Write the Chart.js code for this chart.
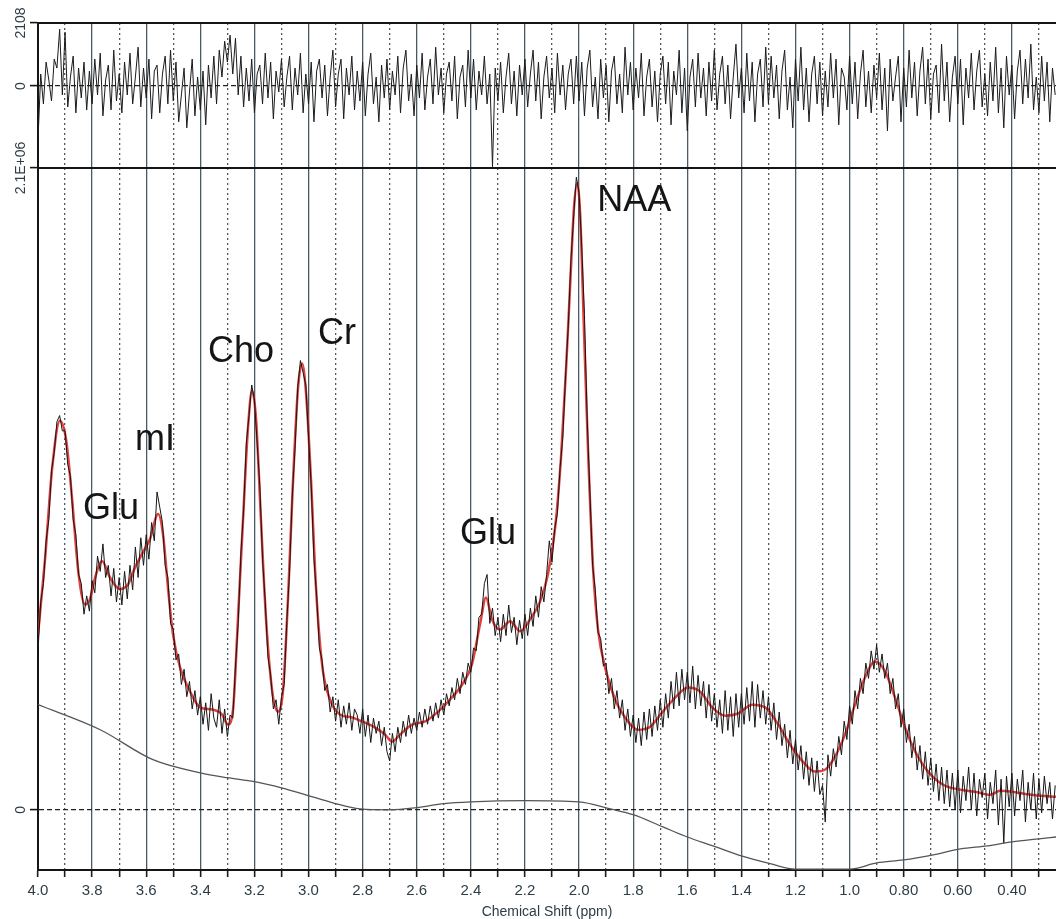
<!DOCTYPE html>
<html>
<head>
<meta charset="utf-8">
<script src="https://cdn.jsdelivr.net/npm/chart.js@4.4.1/dist/chart.umd.min.js"></script>
<style>
  html, body { margin: 0; padding: 0; background: #fff; }
  canvas { display: block; }
</style>
</head>
<body>
<canvas id="spectrum" width="1056" height="919"></canvas>
<script>
// x axis: chemical shift (ppm), drawn reversed
const ppmMax = 4.0;
const ppmMin = 0.237;
const tickPpm = [4.0, 3.9, 3.8, 3.7, 3.6, 3.5, 3.4, 3.3, 3.2, 3.1, 3.0, 2.9, 2.8, 2.7, 2.6, 2.5, 2.4, 2.3, 2.2, 2.1,
  2.0, 1.9, 1.8, 1.7, 1.6, 1.5, 1.4, 1.3, 1.2, 1.1, 1.0, 0.9, 0.8, 0.7, 0.6, 0.5, 0.4, 0.3];
const tickLabels = ['4.0', '', '3.8', '', '3.6', '', '3.4', '', '3.2', '', '3.0', '', '2.8', '', '2.6', '', '2.4', '', '2.2', '',
  '2.0', '', '1.8', '', '1.6', '', '1.4', '', '1.2', '', '1.0', '', '0.80', '', '0.60', '', '0.40', ''];

// spectrum panel, values in units of 1e4
const yTickValues = [0, 210];
const yTickLabels = ['0', '2.1E+06'];
// residual panel, raw units
const resTickValues = [0, 2108];
const resTickLabels = ['0', '2108'];

// measured spectrum, sampled every 0.01 ppm from 4.00 down to 0.24 (units 1e4)
const dataStart = 4.0;
const dataStep = 0.01;
const measured = [
  52, 68, 74, 88, 95, 111, 117, 127, 129, 124,
  124, 113, 109, 95, 90, 77, 74, 64, 70, 65,
  75, 71, 83, 78, 87, 76, 80, 70, 79, 68,
  76, 67, 78, 69, 80, 72, 86, 76, 89, 80,
  90, 82, 94, 88, 104, 99, 94, 80, 76, 61,
  59, 49, 51, 41, 46, 37, 42, 33, 39, 31,
  37, 28, 35, 26, 38, 30, 27, 36, 25, 33,
  24, 31, 30, 47, 61, 84, 98, 120, 129, 139,
  134, 120, 106, 82, 68, 50, 44, 33, 36, 28,
  37, 41, 62, 78, 103, 118, 138, 147, 143, 139,
  122, 106, 82, 70, 53, 49, 39, 41, 32, 37,
  29, 36, 27, 34, 28, 35, 26, 33, 31, 25,
  33, 24, 31, 22, 30, 25, 29, 21, 27, 19,
  16, 25, 19, 27, 22, 29, 24, 31, 25, 30,
  26, 32, 27, 33, 28, 34, 29, 35, 30, 36,
  31, 38, 34, 40, 36, 43, 38, 45, 41, 48,
  45, 53, 52, 63, 64, 74, 77, 61, 66, 57,
  63, 55, 64, 57, 67, 58, 63, 54, 62, 56,
  64, 57, 66, 60, 70, 63, 73, 68, 77, 88,
  81, 92, 97, 112, 122, 142, 158, 180, 194, 207,
  202, 184, 162, 128, 104, 80, 72, 58, 56, 47,
  48, 38, 43, 33, 39, 30, 36, 26, 33, 24,
  31, 22, 30, 21, 32, 23, 33, 24, 34, 26,
  36, 27, 38, 30, 42, 33, 45, 34, 46, 36,
  45, 35, 47, 33, 44, 34, 42, 30, 41, 29,
  38, 27, 36, 25, 39, 26, 37, 24, 38, 27,
  38, 28, 40, 29, 42, 27, 41, 30, 39, 28,
  37, 26, 35, 23, 32, 21, 28, 17, 26, 15,
  23, 13, 21, 10, 19, 8, 17, 6, 16, 5,
  8, -4, 18, 11, 20, 14, 24, 18, 29, 23,
  34, 28, 39, 33, 43, 38, 48, 43, 52, 46,
  54, 45, 51, 43, 48, 38, 43, 33, 38, 27,
  33, 22, 28, 17, 24, 13, 21, 10, 19, 8,
  17, 6, 15, 3, 14, 2, 13, 1, 12, 0,
  13, -1, 11, 3, 14, 0, 12, -2, 10, 4,
  12, -3, 9, 2, 13, -5, 10, -11, 11, 1,
  12, -2, 10, 3, 13, -4, 9, 0, 12, -3,
  10, -1, 11, 2, 9, -3, 8
];

// residual (x100), same sampling as measured
const residual = [
  -18, 4, -6, 8, 2, -5, 9, 6, 19, -3,
  18, -7, 3, 10, -9, 6, -4, 8, -8, 5,
  -6, 9, -3, 11, -10, 2, 7, -8, 12, -5,
  4, -9, 8, -3, 11, -6, 3, 13, -7, 6,
  -4, 9, -11, 5, 7, -9, 4, 10, -6, 12,
  -5, 8, -12, -3, 6, -14, -2, 9, -10, 3,
  -8, 5, -13, 7, -4, 10, -6, 12, 3, 15,
  8, 17, 4, 16, -3, 10, -7, 6, -5, 9,
  -9, 4, 7, -6, 11, -4, 8, -11, 5, -2,
  9, -7, 3, 10, -8, 6, -3, 11, -9, 4,
  -6, 8, -12, 5, 9, -4, 7, -10, 3, 12,
  -7, 4, 9, -11, 6, -3, 10, -8, 5, -5,
  8, -10, 4, 11, -6, 3, -12, 7, -4, 9,
  -8, 5, -3, 10, -9, 6, 12, -5, 4, -10,
  7, -4, 11, -8, 3, 9, -6, 13, -3, 6,
  -9, 4, 8, -5, 10, -11, 3, 7, -7, 12,
  -4, 9, -8, 5, -3, 10, -6, 4, -27, 6,
  -5, 8, -9, 3, 11, -6, 5, -10, 7, -3,
  9, -7, 4, 12, -5, 8, -11, 3, 10, -4,
  6, -9, 11, -3, 7, -8, 4, 9, -6, 10,
  -5, 8, -10, 6, 12, -7, 3, -11, 9, -4,
  7, -12, 5, 10, -6, 4, -9, 13, -3, 8,
  -8, 6, -4, 11, -10, 3, 9, -7, 5, -12,
  4, 10, -6, 8, -13, 5, -3, 12, -9, 6,
  -15, 3, 9, -7, 11, -4, 6, -10, 8, -5,
  12, -8, 4, 10, -6, 7, -11, 3, 14, -4,
  6, -9, 11, -5, 8, -12, 4, 9, -7, 13,
  -6, 10, -4, 7, -11, 5, 12, -8, 3, -14,
  9, -5, 13, -8, 6, -12, 4, 10, -6, 8,
  -10, 5, -7, 11, -4, 9, -13, 6, 3, -8,
  10, -6, 8, -11, 4, 12, -7, 5, -9, 7,
  -4, 11, -8, 6, -15, 9, -5, 3, 10, -12,
  6, -7, 12, -4, 8, -10, 5, 13, -6, 9,
  -11, 4, 7, -9, 14, -5, 8, -12, 3, 10,
  -6, 9, -13, 6, -4, 11, -8, 5, 12, -7,
  4, -10, 8, -5, 13, -9, 6, -14, 10, -3,
  7, -11, 5, 12, -6, 9, -4, 14, -8, 3,
  -9, 10, -5, 8, -12, 6, -3
];

// fitted model (red), units 1e4
const fitPpm = [4.000, 3.974, 3.948, 3.919, 3.896, 3.874, 3.852, 3.826, 3.808, 3.789, 3.763, 3.734, 3.697, 3.667,
  3.641, 3.616, 3.586, 3.556, 3.538, 3.519, 3.501, 3.475, 3.438, 3.401, 3.357, 3.320, 3.298, 3.279, 3.261, 3.242,
  3.224, 3.209, 3.194, 3.176, 3.157, 3.135, 3.113, 3.094, 3.076, 3.057, 3.039, 3.024, 3.009, 2.991, 2.972, 2.950,
  2.921, 2.884, 2.839, 2.802, 2.754, 2.717, 2.691, 2.662, 2.617, 2.569, 2.521, 2.477, 2.432, 2.396, 2.366, 2.344,
  2.322, 2.292, 2.255, 2.218, 2.181, 2.144, 2.115, 2.089, 2.067, 2.048, 2.030, 2.019, 2.007, 1.996, 1.982, 1.967,
  1.948, 1.930, 1.900, 1.867, 1.830, 1.782, 1.737, 1.693, 1.645, 1.597, 1.553, 1.508, 1.460, 1.412, 1.360, 1.312,
  1.264, 1.220, 1.172, 1.128, 1.091, 1.054, 1.017, 0.980, 0.943, 0.906, 0.869, 0.832, 0.795, 0.757, 0.710, 0.654,
  0.591, 0.536, 0.481, 0.444, 0.399, 0.351, 0.296, 0.237];
const fitVal = [57.4, 82, 111.5, 127.3, 121, 101.7, 78.7, 67.2, 68.9, 76, 81.3, 76, 72.2, 73.8,
  79.4, 83.6, 88.6, 96.8, 90.2, 72.2, 57.4, 46.6, 38.7, 33.5, 32.8, 31.2, 27.9, 32.8, 62.3, 95.1,
  124.6, 137.1, 127.9, 95.1, 62.3, 39.4, 32.1, 39.4, 68.9, 108.2, 137.8, 146, 136.1, 108.2, 72.2, 47.6,
  36.1, 31.2, 30.2, 28.9, 26.9, 24.6, 22.3, 24.6, 27.9, 28.9, 32.1, 36.1, 41.0, 47.6, 60.7, 69.5,
  62.3, 59, 61.7, 58.4, 62.3, 68.2, 77.1, 91.8, 114.8, 144.3, 177.1, 196.8, 205, 195.2, 157.4, 118.1,
  78.7, 59, 45.3, 36.1, 30.2, 26.2, 27.2, 31.8, 36.7, 40.0, 38.7, 33.5, 30.8, 31.5, 34.4, 33.5,
  27.9, 21.3, 15.7, 12.5, 13.1, 17.4, 24.6, 34.4, 43.3, 48.5, 45.3, 36.7, 26.9, 19.0, 12.5, 8.2,
  6.6, 5.9, 4.9, 6.2, 5.9, 5.2, 4.6, 4.3];

// baseline (grey), units 1e4
const basePpm = [4.00, 3.77, 3.575, 3.40, 3.30, 3.20, 3.10, 3.01, 2.91, 2.81, 2.70, 2.60, 2.50, 2.40, 2.20, 2.00,
  1.885, 1.80, 1.69, 1.60, 1.505, 1.40, 1.29, 1.20, 1.00, 0.90, 0.80, 0.695, 0.59, 0.49, 0.40, 0.30, 0.237];
const baseVal = [34.4, 26.2, 16.4, 12.1, 10.5, 9.2, 7.2, 4.9, 2.3, 0.3, 0, 0.7, 2.0, 2.6, 3.0, 2.6,
  0.3, -1.6, -5.6, -8.9, -11.8, -15.1, -17.7, -19.4, -19.4, -17.4, -16.4, -14.8, -12.8, -11.8, -10.5, -9.5, -8.9];

// metabolite names
const peakNames = ['Glu', 'mI', 'Cho', 'Cr', 'Glu', 'NAA'];

const pairs = (xs, ys) => ys.map((v, i) => ({ x: xs[i], y: v }));
const sampled = (vals, mul) => vals.map((v, i) => ({ x: +(dataStart - i * dataStep).toFixed(2), y: v * mul }));

const gridColor = '#4b5a62';
const inkColor = '#2e3d45';

// rotated y tick labels (the library does not rotate y tick text)
const rotatedYLabels = {
  id: 'rotatedYLabels',
  afterDraw(chart) {
    const ctx = chart.ctx;
    ctx.save();
    ctx.font = '14px "Liberation Sans", Arial, sans-serif';
    ctx.fillStyle = inkColor;
    ctx.textAlign = 'center';
    ctx.textBaseline = 'middle';
    [['y', yTickLabels], ['yRes', resTickLabels]].forEach(([id, labels]) => {
      const scale = chart.scales[id];
      scale.ticks.forEach((t, i) => {
        ctx.save();
        ctx.translate(21, scale.getPixelForValue(t.value));
        ctx.rotate(-Math.PI / 2);
        ctx.fillText(labels[i], 0, 0);
        ctx.restore();
      });
    });
    ctx.restore();
  }
};

// top edge and the line between residual and spectrum panels
const panelFrame = {
  id: 'panelFrame',
  afterDatasetsDraw(chart) {
    const { ctx, chartArea } = chart;
    const sep = chart.scales.yRes.bottom;
    ctx.save();
    ctx.strokeStyle = '#151515';
    ctx.lineWidth = 2;
    ctx.beginPath();
    ctx.moveTo(chartArea.left, chartArea.top);
    ctx.lineTo(chartArea.right, chartArea.top);
    ctx.moveTo(chartArea.left, sep);
    ctx.lineTo(chartArea.right, sep);
    ctx.stroke();
    ctx.restore();
  }
};

// peak names placed in data coordinates
const peakLabels = {
  id: 'peakLabels',
  afterDatasetsDraw(chart, args, opts) {
    const { ctx } = chart;
    const xs = chart.scales.x, ys = chart.scales.y;
    ctx.save();
    ctx.font = '36px "Liberation Sans", Arial, sans-serif';
    ctx.fillStyle = '#151515';
    ctx.textAlign = 'left';
    ctx.textBaseline = 'alphabetic';
    opts.at.forEach((p, i) => {
      ctx.fillText(peakNames[i], xs.getPixelForValue(p[0]), ys.getPixelForValue(p[1]));
    });
    ctx.restore();
  }
};

const ctx = document.getElementById('spectrum').getContext('2d');
new Chart(ctx, {
  type: 'line',
  data: {
    datasets: [
      {
        label: 'Residual',
        data: sampled(residual, 100),
        yAxisID: 'yRes',
        borderColor: '#1b1b1b',
        borderWidth: 1,
        pointRadius: 0,
        tension: 0
      },
      {
        label: 'Baseline',
        data: pairs(basePpm, baseVal),
        yAxisID: 'y',
        borderColor: '#555',
        borderWidth: 1.3,
        pointRadius: 0,
        cubicInterpolationMode: 'monotone'
      },
      {
        label: 'Data',
        data: sampled(measured, 1),
        yAxisID: 'y',
        borderColor: '#161616',
        borderWidth: 1,
        pointRadius: 0,
        tension: 0
      },
      {
        label: 'Fit',
        data: pairs(fitPpm, fitVal),
        yAxisID: 'y',
        borderColor: 'rgba(222, 32, 28, 0.85)',
        borderWidth: 2.5,
        pointRadius: 0,
        cubicInterpolationMode: 'monotone'
      }
    ]
  },
  options: {
    responsive: false,
    animation: false,
    events: [],
    layout: { padding: { top: 23, left: 0, right: 0, bottom: 0 } },
    plugins: {
      legend: { display: false },
      tooltip: { enabled: false },
      peakLabels: {
        at: [[3.834, 95.1], [3.641, 117.8], [3.372, 146.6], [2.965, 152.5], [2.440, 86.9], [1.933, 195.8]]
      }
    },
    scales: {
      x: {
        type: 'linear',
        position: 'bottom',
        reverse: true,
        min: ppmMin,
        max: ppmMax,
        afterBuildTicks: s => { s.ticks = tickPpm.map(v => ({ value: v })); },
        ticks: {
          autoSkip: false,
          maxRotation: 0,
          minRotation: 0,
          padding: 5,
          color: inkColor,
          font: { size: 15, family: '"Liberation Sans", Arial, sans-serif' },
          callback: (v, i) => tickLabels[i]
        },
        grid: {
          color: c => (tickLabels[c.index] ? gridColor : 'rgba(0,0,0,0)'),
          lineWidth: 1.3,
          tickColor: '#1b1b1b',
          tickWidth: 1.6,
          tickLength: 7
        },
        border: { color: '#151515', width: 2 },
        title: {
          display: true,
          text: 'Chemical Shift (ppm)',
          color: inkColor,
          font: { size: 14, lineHeight: 1.0, family: '"Liberation Sans", Arial, sans-serif' },
          padding: { top: 0, bottom: 0 }
        }
      },
      xMinor: {
        type: 'linear',
        position: 'bottom',
        reverse: true,
        min: ppmMin,
        max: ppmMax,
        afterBuildTicks: s => { s.ticks = tickPpm.filter((v, i) => !tickLabels[i]).map(v => ({ value: v })); },
        ticks: { display: false },
        grid: { color: gridColor, lineWidth: 1.3, drawTicks: false },
        border: { display: false, dash: [2, 3] }
      },
      y: {
        type: 'linear',
        position: 'left',
        stack: 'panels',
        stackWeight: 702,
        min: -19.7,
        max: 210,
        afterBuildTicks: s => { s.ticks = yTickValues.map(v => ({ value: v })); },
        afterFit: s => { s.width = 38; },
        ticks: { display: false },
        grid: { color: '#222', lineWidth: 1.2, tickColor: '#151515', tickWidth: 1.6, tickLength: 8 },
        border: { color: '#151515', width: 2, dash: [5, 3] }
      },
      yRes: {
        type: 'linear',
        position: 'left',
        stack: 'panels',
        stackWeight: 145,
        min: -2744,
        max: 2108,
        afterBuildTicks: s => { s.ticks = resTickValues.map(v => ({ value: v })); },
        afterFit: s => { s.width = 38; },
        ticks: { display: false },
        grid: { color: '#222', lineWidth: 1.2, tickColor: '#151515', tickWidth: 1.6, tickLength: 8 },
        border: { color: '#151515', width: 2, dash: [5, 3] }
      }
    }
  },
  plugins: [rotatedYLabels, panelFrame, peakLabels]
});
</script>
</body>
</html>
